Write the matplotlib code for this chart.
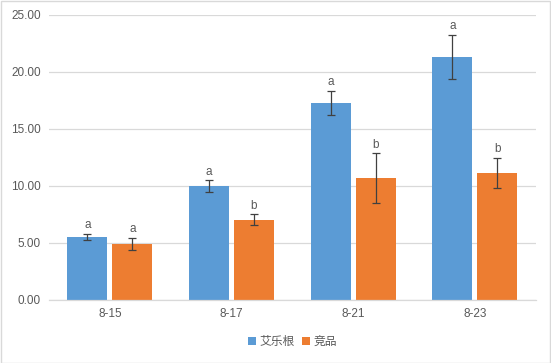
import numpy as np
import matplotlib.pyplot as plt
from matplotlib.patches import Rectangle

plt.rcParams['font.family'] = ['Liberation Sans', 'Noto Sans CJK SC', 'DejaVu Sans']

dates = ["8-15", "8-17", "8-21", "8-23"]
series = ["艾乐根", "竞品"]
ailegen = [5.5, 10.0, 17.3, 21.3]
ailegen_err = [0.27, 0.5, 1.05, 1.95]
jingpin = [4.95, 7.05, 10.7, 11.15]
jingpin_err = [0.53, 0.45, 2.15, 1.3]
ailegen_sig = ["a", "a", "a", "a"]
jingpin_sig = ["a", "b", "b", "b"]

blue = "#5B9BD5"
orange = "#ED7D31"
gray = "#595959"

fig = plt.figure(figsize=(5.51, 3.63), dpi=100)
ax = fig.add_axes([0.089, 0.1736, 0.883, 0.7851])

x = np.arange(len(dates))
w = 0.33
off = 0.185

ax.bar(x - off, ailegen, w, color=blue, label=series[0], zorder=2)
ax.bar(x + off, jingpin, w, color=orange, label=series[1], zorder=2)
ax.errorbar(x - off, ailegen, yerr=ailegen_err, fmt="none", ecolor="#404040",
            elinewidth=0.9, capsize=3, capthick=0.9, zorder=3)
ax.errorbar(x + off, jingpin, yerr=jingpin_err, fmt="none", ecolor="#404040",
            elinewidth=0.9, capsize=3, capthick=0.9, zorder=3)

for xi, v, e, s in zip(x - off, ailegen, ailegen_err, ailegen_sig):
    ax.annotate(s, (xi, v + e), xytext=(0, 2), textcoords="offset points",
                ha="center", va="bottom", fontsize=8.5, color=gray)
for xi, v, e, s in zip(x + off, jingpin, jingpin_err, jingpin_sig):
    ax.annotate(s, (xi, v + e), xytext=(0, 2), textcoords="offset points",
                ha="center", va="bottom", fontsize=8.5, color=gray)

ax.set_xlim(-0.5, len(dates) - 0.5)
ax.set_ylim(0, 25)
ax.set_yticks(np.arange(0, 26, 5))
ax.set_yticklabels([f"{t:.2f}" for t in np.arange(0, 26, 5)])
ax.set_xticks(x)
ax.set_xticklabels(dates)
ax.tick_params(axis="both", length=0, labelsize=8.5, colors=gray, pad=6)
ax.grid(axis="y", color="#D9D9D9", linewidth=0.9, zorder=0)
for sp in ["top", "right", "left"]:
    ax.spines[sp].set_visible(False)
ax.spines["bottom"].set_color("#D9D9D9")
ax.spines["bottom"].set_linewidth(0.9)

ax.legend(loc="upper center", bbox_to_anchor=(0.5, -0.09), ncol=2, frameon=False,
          fontsize=8.5, handlelength=0.7, handleheight=0.7, handletextpad=0.3,
          columnspacing=0.6, labelcolor=gray)

fig.patches.append(Rectangle((0.001, 0.001), 0.997, 0.997, transform=fig.transFigure,
                             fill=False, edgecolor="#D9D9D9", linewidth=1))

fig.savefig("out.png", dpi=100)
